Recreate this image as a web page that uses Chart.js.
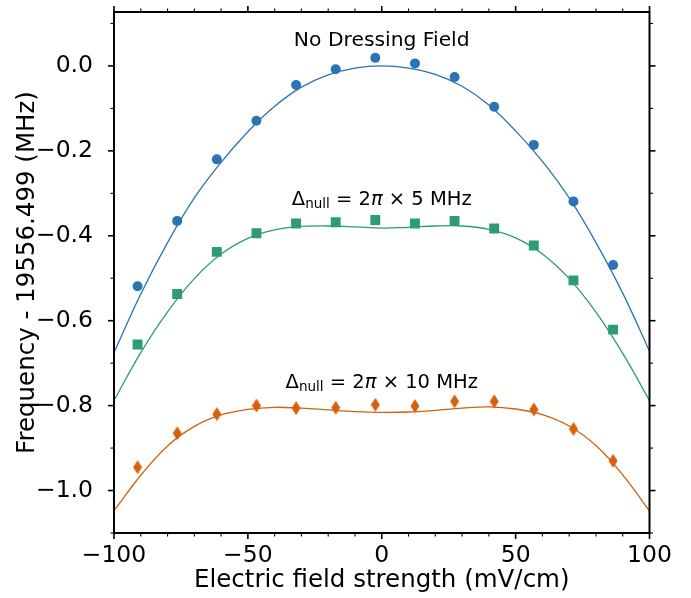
<!DOCTYPE html>
<html>
<head>
<meta charset="utf-8">
<script src="https://cdn.jsdelivr.net/npm/chart.js@4.4.1/dist/chart.umd.min.js"></script>
<style>
  html, body { margin: 0; padding: 0; background: #fff; }
  canvas { display: block; }
</style>
</head>
<body>
<canvas id="chart" width="691" height="598"></canvas>
<script>
// measured field values (mV/cm), shared by all three data sets
const fieldValues = [-91.2, -76.4, -61.6, -46.8, -32.0, -17.2, -2.4, 12.4, 27.2, 42.0, 56.8, 71.6, 86.4];

// measured frequency offsets (MHz)
const noDressing = [-0.519, -0.365, -0.220, -0.129, -0.045, -0.008, 0.019, 0.006, -0.026, -0.096, -0.186, -0.319, -0.469];
const dressing5 = [-0.656, -0.537, -0.438, -0.394, -0.371, -0.368, -0.363, -0.371, -0.365, -0.383, -0.423, -0.505, -0.621];
const dressing10 = [-0.945, -0.865, -0.820, -0.800, -0.806, -0.805, -0.798, -0.801, -0.790, -0.790, -0.809, -0.855, -0.930];

// fitted curves, every 10 mV/cm
const fitField = [-100, -90, -80, -70, -60, -50, -40, -30, -20, -10, 0, 10, 20, 30, 40, 50, 60, 70, 80, 90, 100];
const fitNoDressing = [-0.675, -0.537, -0.416, -0.311, -0.227, -0.155, -0.095, -0.050, -0.021, -0.005, 0.000, -0.005, -0.020, -0.048, -0.092, -0.153, -0.225, -0.311, -0.416, -0.535, -0.672];
const fitDressing5 = [-0.788, -0.675, -0.579, -0.501, -0.443, -0.406, -0.386, -0.378, -0.377, -0.379, -0.382, -0.380, -0.377, -0.377, -0.385, -0.405, -0.443, -0.501, -0.580, -0.677, -0.788];
const fitDressing10 = [-1.048, -0.964, -0.895, -0.849, -0.822, -0.809, -0.804, -0.806, -0.810, -0.814, -0.816, -0.815, -0.811, -0.806, -0.803, -0.808, -0.821, -0.848, -0.894, -0.963, -1.048];

// axis ticks
const xMajorTicks = [-100, -50, 0, 50, 100];
const xMinorTicks = [-90, -80, -70, -60, -40, -30, -20, -10, 10, 20, 30, 40, 60, 70, 80, 90];
const yMajorTicks = [-1.0, -0.8, -0.6, -0.4, -0.2, 0.0];
const yMinorTicks = [-1.1, -0.9, -0.7, -0.5, -0.3, -0.1, 0.1];

const BLUE = '#2a73b5';
const GREEN = '#2d9c74';
const ORANGE = '#d7600c';
const FONT = "'DejaVu Sans', sans-serif";

const pts = (xs, ys) => xs.map((x, i) => ({ x: x, y: ys[i] }));
const fmtX = v => (v < 0 ? '\u2212' : '') + Math.abs(v).toFixed(0);
const fmtY = v => (v < 0 ? '\u2212' : '') + Math.abs(v).toFixed(1);

// tall thin diamond marker
function makeDiamond(color) {
    const c = document.createElement('canvas');
    c.width = 10;
    c.height = 15;
    const g = c.getContext('2d');
    g.fillStyle = color;
    g.beginPath();
    g.moveTo(5, 0.5);
    g.lineTo(9.5, 7.5);
    g.lineTo(5, 14.5);
    g.lineTo(0.5, 7.5);
    g.closePath();
    g.fill();
    return c;
}

// box frame with outward major/minor ticks on all four sides
const frameTicks = {
    id: 'frameTicks',
    afterDraw(chart) {
        const { ctx, chartArea: a, scales: { x, y } } = chart;
        ctx.save();
        ctx.strokeStyle = '#000';
        const seg = (x1, y1, x2, y2) => { ctx.beginPath(); ctx.moveTo(x1, y1); ctx.lineTo(x2, y2); ctx.stroke(); };
        const drawX = (vals, len) => vals.forEach(v => {
            const p = x.getPixelForValue(v);
            seg(p, a.bottom, p, a.bottom + len);
            seg(p, a.top, p, a.top - len);
        });
        const drawY = (vals, len) => vals.forEach(v => {
            const p = y.getPixelForValue(v);
            if (p < a.top - 0.5 || p > a.bottom + 0.5) return;
            seg(a.left, p, a.left - len, p);
            seg(a.right, p, a.right + len, p);
        });
        ctx.lineWidth = 1.6;
        drawX(xMajorTicks, 6);
        drawY(yMajorTicks, 6);
        ctx.lineWidth = 1.1;
        drawX(xMinorTicks, 3.5);
        drawY(yMinorTicks, 3.5);
        ctx.lineWidth = 2;
        ctx.strokeRect(a.left, a.top, a.width, a.height);
        ctx.restore();
    }
};

// curve labels, placed in data coordinates
function drawDelta(ctx, cx, cy, amount) {
    const big = '19.5px ' + FONT;
    const small = '13.5px ' + FONT;
    const ital = 'italic 19.5px ' + FONT;
    const parts = [
        { t: '\u0394', f: big, dy: 0 },
        { t: 'null', f: small, dy: 5 },
        { t: ' = 2', f: big, dy: 0 },
        { t: '\u03c0', f: ital, dy: 0 },
        { t: ' \u00d7 ' + amount + ' MHz', f: big, dy: 0 }
    ];
    let total = 0;
    parts.forEach(p => { ctx.font = p.f; p.w = ctx.measureText(p.t).width; total += p.w; });
    let x = cx - total / 2;
    parts.forEach(p => {
        ctx.font = p.f;
        ctx.fillText(p.t, x, cy + p.dy);
        x += p.w;
    });
}

const curveLabels = {
    id: 'curveLabels',
    afterDatasetsDraw(chart) {
        const { ctx, scales: { x, y } } = chart;
        ctx.save();
        ctx.fillStyle = '#000';
        ctx.textAlign = 'left';
        ctx.textBaseline = 'middle';
        ctx.font = '20.3px ' + FONT;
        const t = 'No Dressing Field';
        ctx.fillText(t, x.getPixelForValue(0) - ctx.measureText(t).width / 2, y.getPixelForValue(0.060));
        drawDelta(ctx, x.getPixelForValue(0), y.getPixelForValue(-0.315), '5');
        drawDelta(ctx, x.getPixelForValue(0), y.getPixelForValue(-0.746), '10');
        ctx.restore();
    }
};

const fitLine = (data, color) => ({
    type: 'line',
    data: data,
    borderColor: color,
    borderWidth: 1.3,
    pointRadius: 0,
    fill: false,
    tension: 0.4,
    order: 2
});

const markers = (data, color, style, radius) => ({
    type: 'scatter',
    data: data,
    backgroundColor: color,
    borderColor: color,
    borderWidth: 0,
    pointStyle: style,
    pointRadius: radius,
    order: 1
});

new Chart(document.getElementById('chart').getContext('2d'), {
    data: {
        datasets: [
            markers(pts(fieldValues, noDressing), BLUE, 'circle', 5),
            markers(pts(fieldValues, dressing5), GREEN, 'rect', 7),
            markers(pts(fieldValues, dressing10), ORANGE, makeDiamond(ORANGE), 7),
            fitLine(pts(fitField, fitNoDressing), BLUE),
            fitLine(pts(fitField, fitDressing5), GREEN),
            fitLine(pts(fitField, fitDressing10), ORANGE)
        ]
    },
    options: {
        responsive: false,
        animation: false,
        layout: { padding: { top: 12, right: 41.5, left: 0, bottom: 0 } },
        plugins: {
            legend: { display: false },
            tooltip: { enabled: false }
        },
        scales: {
            x: {
                type: 'linear',
                position: 'bottom',
                min: -100,
                max: 100,
                grid: { display: false },
                border: { display: false },
                afterBuildTicks: scale => { scale.ticks = xMajorTicks.map(v => ({ value: v })); },
                afterFit: scale => { scale.height = 65; scale.paddingLeft = 0; scale.paddingRight = 0; },
                ticks: {
                    color: '#000',
                    padding: 1,
                    maxRotation: 0,
                    font: { family: FONT, size: 23.5 },
                    callback: v => fmtX(v)
                },
                title: {
                    display: true,
                    text: 'Electric field strength (mV/cm)',
                    color: '#000',
                    font: { family: FONT, size: 24.5 },
                    padding: { top: 0, bottom: 3 }
                }
            },
            y: {
                type: 'linear',
                position: 'left',
                min: -1.1,
                max: 0.127,
                grid: { display: false },
                border: { display: false },
                afterBuildTicks: scale => { scale.ticks = yMajorTicks.map(v => ({ value: v })); },
                afterFit: scale => { scale.width = 114; scale.paddingTop = 0; scale.paddingBottom = 0; },
                ticks: {
                    color: '#000',
                    padding: 13,
                    font: { family: FONT, size: 23.5 },
                    callback: v => fmtY(v)
                },
                title: {
                    display: true,
                    text: 'Frequency - 19556.499 (MHz)',
                    color: '#000',
                    font: { family: FONT, size: 24.5 },
                    padding: { top: 13, bottom: 0 }
                }
            }
        }
    },
    plugins: [frameTicks, curveLabels]
});
</script>
</body>
</html>
